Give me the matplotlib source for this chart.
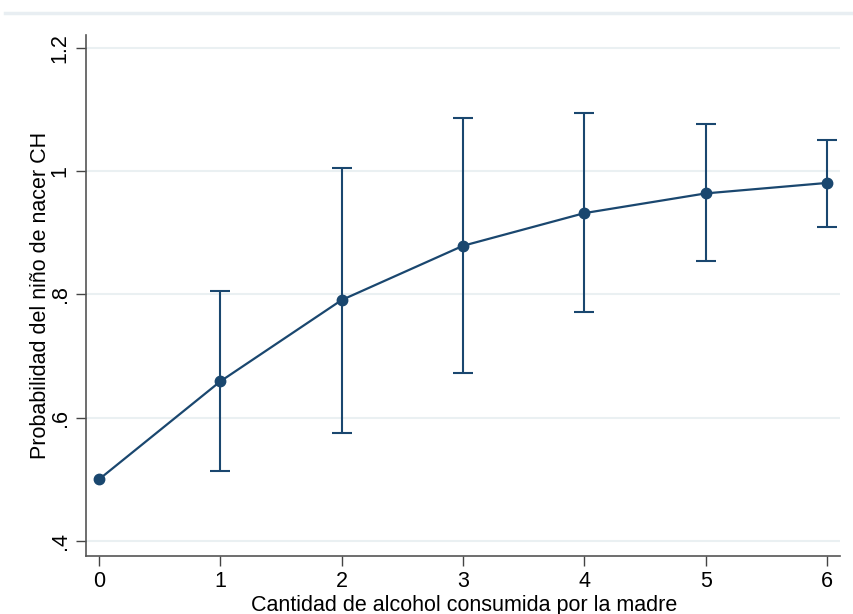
import matplotlib
matplotlib.use("Agg")
import matplotlib.pyplot as plt
from matplotlib.lines import Line2D

plt.rcParams['font.family'] = ['Liberation Sans', 'DejaVu Sans']

x_vals = [0, 1, 2, 3, 4, 5, 6]
prob = [0.500, 0.659, 0.791, 0.879, 0.932, 0.964, 0.981]
ci_low = [0.500, 0.514, 0.575, 0.672, 0.772, 0.854, 0.909]
ci_high = [0.500, 0.805, 1.005, 1.087, 1.095, 1.076, 1.051]
y_ticks = [0.4, 0.6, 0.8, 1.0, 1.2]
y_ticklabels = ['.4', '.6', '.8', '1', '1.2']
x_label = 'Cantidad de alcohol consumida por la madre'
y_label = 'Probabilidad del niño de nacer CH'

navy = '#1a476f'
fs = 15.5

fig = plt.figure(figsize=(8.54, 6.14), dpi=100)
ax = fig.add_axes([86/854, 1-556/614, (840-86)/854, (556-35)/614])

fig.add_artist(Line2D([5/854, 1], [1-13/614, 1-13/614], color='#e8eef2', lw=2.5, transform=fig.transFigure))

err_lo = [p - l for p, l in zip(prob, ci_low)]
err_hi = [h - p for p, h in zip(prob, ci_high)]
ax.errorbar(x_vals[1:], prob[1:], yerr=[err_lo[1:], err_hi[1:]], fmt='none',
            ecolor=navy, elinewidth=1.5, capsize=7, capthick=1.5, zorder=3)
ax.plot(x_vals, prob, color=navy, lw=1.6, marker='o', markersize=7.5, zorder=4)

ax.set_xlim(-0.107, 6.107)
ax.set_ylim(0.3757, 1.221)
ax.set_yticks(y_ticks)
ax.set_yticklabels(y_ticklabels, rotation=90, va='center')
ax.set_xticks(x_vals)
ax.grid(axis='y', color='#eaf0f2', lw=1.5)
ax.set_axisbelow(True)
for s in ['top', 'right']:
    ax.spines[s].set_visible(False)
for s in ['left', 'bottom']:
    ax.spines[s].set_color('#555555')
    ax.spines[s].set_linewidth(1.2)
ax.tick_params(axis='both', direction='out', length=7, width=1, color='#444444',
               labelsize=fs, labelcolor='black')
ax.tick_params(axis='y', pad=4)
ax.tick_params(axis='x', pad=4)
ax.set_xlabel(x_label, fontsize=fs, labelpad=0)
ax.set_ylabel(y_label, fontsize=fs, labelpad=4)
ax.xaxis.set_label_coords(0.502, -0.074)
ax.yaxis.set_label_coords(-0.047, 0.5)

fig.savefig('out.png', dpi=100)
